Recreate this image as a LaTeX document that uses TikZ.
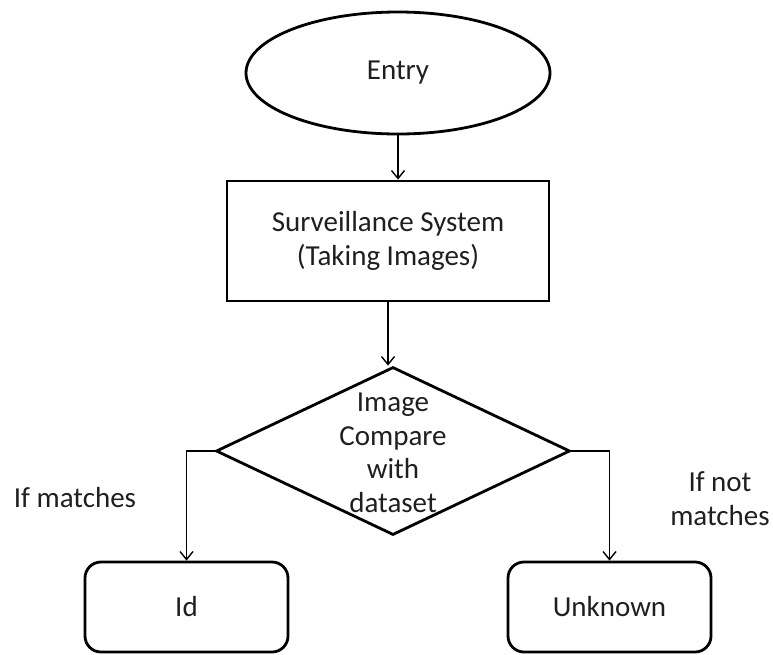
\documentclass[tikz,border=0pt]{standalone}
\usepackage{fontspec}
\setmainfont{Carlito}
\usetikzlibrary{shapes.geometric,arrows.meta}
\begin{document}
\begin{tikzpicture}[x=1pt,y=-1pt,
  outline/.style={draw=black,line width=2.8pt},
  txt/.style={text=black!88,font=\fontsize{29}{33.5}\selectfont},
  link/.style={draw=black,line width=1.4pt,
    -{Straight Barb[length=8pt,width=13pt,line width=1.4pt]}},
  leaf/.style={rectangle,rounded corners=16pt,outline,txt,
    minimum width=203pt,minimum height=90pt}]
\useasboundingbox (0,0) rectangle (773,654);

% start / process
\node[ellipse,outline,txt,minimum width=304pt,minimum height=122pt] (entry) at (398,73) {Entry};
\node[rectangle,outline,txt,align=center,
  minimum width=322pt,minimum height=120pt] (surv) at (388,241)
  {Surveillance System\\(Taking Images)};

% decision
\node[diamond,outline,inner sep=0pt,minimum width=354pt,minimum height=168pt] (cmp) at (393,451) {};
\node[txt,align=center] (cmptxt) at (393,453) {Image\\Compare\\with\\dataset};

% outcomes
\node[leaf] (id) at (186.5,607) {Id};
\node[leaf] (unk) at (609.5,607) {Unknown};

% connectors
\draw[link] (entry.south) -- (entry.south |- surv.north);
\draw[link] (surv.south) -- (surv.south |- cmp.north);
\draw[link] (cmp.west) -| (id.north);
\draw[link] (cmp.east) -| (unk.north);

% branch labels
\node[txt] (ifm) at (75,498) {If matches};
\node[txt,align=center] (ifnm) at (720,498.5) {If not\\matches};
\end{tikzpicture}
\end{document}
